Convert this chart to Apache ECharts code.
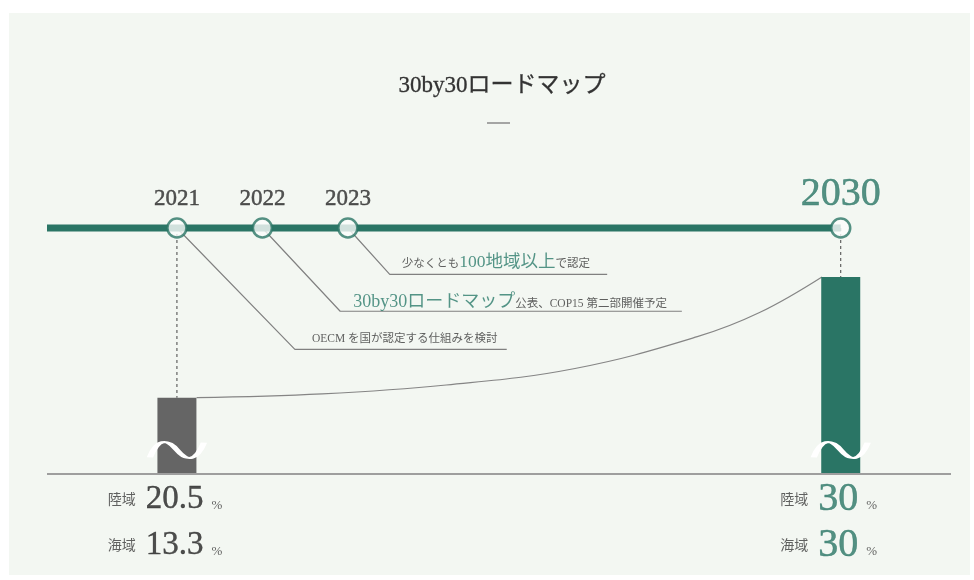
<!DOCTYPE html>
<html><head><meta charset="utf-8">
<script src="https://cdn.jsdelivr.net/npm/echarts@6/dist/echarts.min.js"></script>
<style>
html,body{margin:0;padding:0;background:#fff;}
#wrap{position:relative;width:974px;height:580px;background:#fff;overflow:hidden}
#panel{position:absolute;left:9px;top:13px;width:961px;height:562px;background:#f3f7f2}
#chart{position:absolute;left:0;top:0;width:974px;height:580px}
</style></head><body>
<div id="wrap"><div id="panel"></div><div id="chart"></div></div>
<script>
// ---- data ----
const chartTitle = '30by30ロードマップ';
const milestoneYears = [2021, 2022, 2023, 2030];
const barYears = [2021, 2030];
const landValues = [20.5, 30];   // 陸域 %
const seaValues = [13.3, 30];    // 海域 %
const curveYears = [2021.23, 2022.7, 2024.2, 2026.2, 2028.1, 2029.05, 2029.78];
const curveValues = [20.5, 20.8, 21.5, 22.8, 25.3, 27.2, 30];
const noteYears = [2023, 2022, 2021];
const noteElbowYears = [2023.49, 2022.91, 2022.38];
const noteElbowValues = [30.2, 27.3, 24.3];
const noteEndYears = [2026.7, 2027.86, 2025.14];
const noteTexts = [
  '{s|少なくとも}{b1|100地域以上}{s|で認定}',
  '{b2|30by30ロードマップ}{s|公表、COP15 第二部開催予定}',
  '{s|OECM を国が認定する仕組みを検討}'
];

// ---- axis extents ----
const X_MIN = 2019.48, X_MAX = 2031.29;
const BREAK_START = 2024, BREAK_END = 2029, BREAK_GAP = 3.766;
const Y_MIN = 14.5, Y_MAX = 33.85;

const TEAL = '#2a7565';
const TEAL_TXT = '#2a7a6a';
const SERIF = "'Liberation Serif', 'Noto Sans CJK JP', serif";
const SANS_JP = "'Noto Sans CJK JP', sans-serif";

const chart = echarts.init(document.getElementById('chart'), null, {renderer: 'canvas'});

const series = [];

// baseline
series.push({
  type: 'line', silent: true, clip: false, symbol: 'none', z: 6,
  data: [[X_MIN, Y_MIN], [X_MAX, Y_MIN]],
  lineStyle: {color: '#9e9e9e', width: 2}
});

// timeline
series.push({
  type: 'line', silent: true, clip: false, symbol: 'none', z: 3,
  data: [[X_MIN, Y_MAX], [milestoneYears[milestoneYears.length - 1], Y_MAX]],
  lineStyle: {color: TEAL, width: 7}
});

// dashed connectors circle -> bar top
barYears.forEach((y, i) => {
  series.push({
    type: 'line', silent: true, clip: false, symbol: 'none', z: 2,
    data: [[y, Y_MAX], [y, landValues[i]]],
    lineStyle: {color: '#444', width: 1, type: [3, 3]}
  });
});

// leader lines
noteYears.forEach((y, i) => {
  series.push({
    type: 'line', silent: true, clip: false, symbol: 'none', z: 2,
    data: [[y, Y_MAX], [noteElbowYears[i], noteElbowValues[i]], [noteEndYears[i], noteElbowValues[i]]],
    lineStyle: {color: '#808080', width: 1.2}
  });
});

// note labels
const noteDist = [12, 13, 17];
const noteOff = [-12, -9, -12];
series.push({
  type: 'scatter', silent: true, clip: false, symbolSize: 0, z: 5,
  data: noteElbowYears.map((x, i) => ({
    value: [x, noteElbowValues[i]],
    label: {
      show: true, position: 'right', distance: noteDist[i], offset: [0, noteOff[i]],
      formatter: noteTexts[i],
      rich: {
        s: {fontSize: 11.5, color: '#3a3a3a', fontFamily: SERIF, padding: [3, 0, 0, 0]},
        b1: {fontSize: 17.5, color: TEAL_TXT, fontFamily: SERIF},
        b2: {fontSize: 18, color: TEAL_TXT, fontFamily: SERIF}
      }
    }
  }))
});

// growth curve
series.push({
  type: 'line', silent: true, clip: false, symbol: 'none', smooth: 0.4, z: 2,
  data: curveYears.map((x, i) => [x, curveValues[i]]),
  lineStyle: {color: '#858585', width: 1.2}
});

// bars
series.push({
  type: 'bar', silent: true, barWidth: 39, z: 4,
  data: barYears.map((x, i) => ({
    value: [x, landValues[i]],
    itemStyle: {color: i === 0 ? '#656565' : TEAL}
  })),
  markPoint: {
    silent: true,
    symbol: 'path://M2,15 C10,2 20,2 30,10 C40,18 50,18 58,5',
    symbolSize: [54, 16],
    symbolOffset: [0, -24],
    itemStyle: {color: 'none', borderColor: '#ffffff', borderWidth: 3.5},
    label: {show: false},
    data: barYears.map(x => ({coord: [x, Y_MIN]}))
  }
});

// milestone circles + year labels
series.push({
  type: 'scatter', silent: true, clip: false, symbolSize: 19, z: 10,
  itemStyle: {color: '#fbfdfb', borderColor: TEAL, borderWidth: 2.5},
  data: milestoneYears.map((y, i) => {
    const last = i === milestoneYears.length - 1;
    const c = last ? TEAL : '#2a2a2a';
    return {
      value: [y, Y_MAX],
      label: {
        show: true, position: 'top', formatter: String(y),
        distance: last ? 3 : 7,
        fontFamily: SERIF, fontSize: last ? 40 : 23,
        fontWeight: 'normal',
        color: c, textBorderColor: c, textBorderWidth: last ? 0.5 : 0.45
      }
    };
  })
});

// bottom value labels
series.push({
  type: 'scatter', silent: true, clip: false, symbolSize: 0, z: 5,
  data: barYears.map((x, i) => ({
    value: [x, Y_MIN],
    label: {
      show: true, position: 'bottom', distance: 2, offset: [-12, 0],
      formatter: i === 0
        ? `{k|陸域}{v|${landValues[i]}}{p|%}\n{k|海域}{v|${seaValues[i]}}{p|%}`
        : `{k|陸域}{t|${landValues[i]}}{p|%}\n{k|海域}{t|${seaValues[i]}}{p|%}`,
      rich: {
        k: {fontSize: 14, color: '#3a3a3a', fontFamily: SANS_JP, padding: [0, 10, 0, 0]},
        v: {fontSize: 33, color: '#222', fontFamily: SERIF, lineHeight: 46, textBorderColor: '#222', textBorderWidth: 0.4},
        t: {fontSize: 40, color: TEAL, fontFamily: SERIF, lineHeight: 46, textBorderColor: TEAL, textBorderWidth: 0.5},
        p: {fontSize: 13, color: '#3a3a3a', fontFamily: SERIF, padding: [14, 0, 0, 8]}
      }
    }
  }))
});

chart.setOption({
  animation: false,
  backgroundColor: 'transparent',
  title: {
    text: chartTitle, left: 497, top: 69, textAlign: 'center',
    textStyle: {fontFamily: SERIF, fontSize: 23, fontWeight: 'normal', color: '#333',
      textBorderColor: '#333', textBorderWidth: 0.3}
  },
  graphic: [{
    type: 'line', silent: true,
    shape: {x1: 487, y1: 123, x2: 510, y2: 123},
    style: {stroke: '#8a8a8a', lineWidth: 1.5}
  }],
  grid: {left: 47, right: 23, top: 228, bottom: 106, containLabel: false, outerBoundsMode: 'none'},
  xAxis: {
    type: 'value', min: X_MIN, max: X_MAX,
    breaks: [{start: BREAK_START, end: BREAK_END, gap: BREAK_GAP}],
    breakArea: {show: false},
    axisLine: {show: false},
    axisTick: {show: false}, axisLabel: {show: false}, splitLine: {show: false}
  },
  yAxis: {
    type: 'value', min: Y_MIN, max: Y_MAX, show: false,
    splitLine: {show: false}
  },
  series: series
});
</script>
</body></html>
